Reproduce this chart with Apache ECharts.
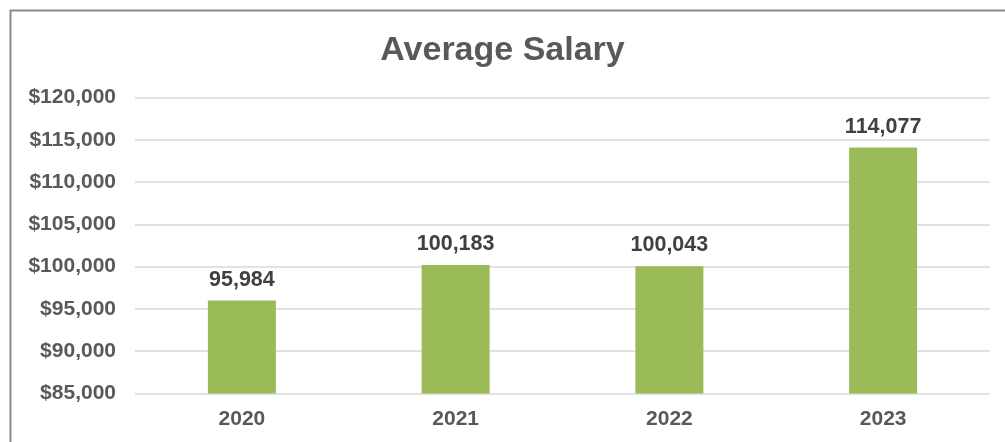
<!DOCTYPE html>
<html><head><meta charset="utf-8">
<script src="https://cdn.jsdelivr.net/npm/echarts@6/dist/echarts.min.js"></script>
<style>html,body{margin:0;padding:0;background:#fff}#c{width:1005px;height:442px}</style>
</head><body><div id="c"></div>
<script>
const categories = ['2020', '2021', '2022', '2023'];
const salaries = [95984, 100183, 100043, 114077];
const yMin = 85000, yMax = 120000, yStep = 5000;

const chart = echarts.init(document.getElementById('c'), null, {renderer: 'canvas'});
const font = '"Liberation Sans", Arial, sans-serif';
chart.setOption({
  animation: false,
  backgroundColor: '#fff',
  graphic: [{
    type: 'rect', left: 8, top: 8,
    shape: {x: 0, y: 0, width: 1010, height: 450},
    style: {fill: 'none', stroke: '#898989', lineWidth: 2}
  }],
  title: {
    text: 'Average Salary', left: 'center', top: 29,
    textStyle: {fontFamily: font, fontSize: 34, fontWeight: 'bold', color: '#595959'}
  },
  grid: {left: 135, right: 15, top: 97.5, bottom: 48.5, containLabel: false},
  xAxis: {
    type: 'category', data: categories,
    axisLine: {show: false}, axisTick: {show: false},
    axisLabel: {fontFamily: font, fontSize: 21, fontWeight: 'bold', color: '#595959', margin: 15}
  },
  yAxis: {
    type: 'value', min: yMin, max: yMax, interval: yStep,
    axisLine: {show: false}, axisTick: {show: false},
    splitLine: {lineStyle: {color: '#D9D9D9', width: 1.5}},
    axisLabel: {
      fontFamily: font, fontSize: 21, fontWeight: 'bold', color: '#595959', margin: 19,
      formatter: v => '$' + v.toLocaleString('en-US')
    }
  },
  series: [{
    type: 'bar', data: salaries, barWidth: 68,
    itemStyle: {color: '#9BBB59'},
    label: {
      show: true, position: 'top', distance: 10,
      fontFamily: font, fontSize: 21.5, fontWeight: 'bold', color: '#404040',
      formatter: p => p.value.toLocaleString('en-US')
    }
  }]
});
</script></body></html>
